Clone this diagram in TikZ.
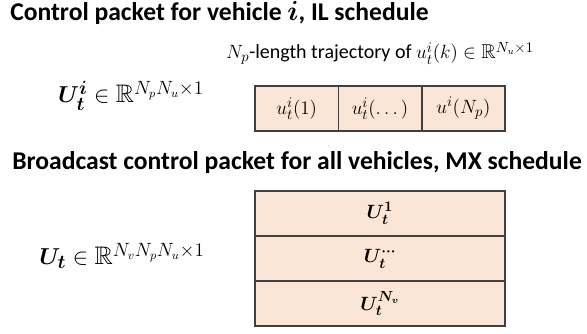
\documentclass[tikz,border=0pt]{standalone}
\usepackage{amsmath}
\usepackage{amssymb}
\usepackage[no-math]{fontspec}
\usepackage{xcolor}
\setmainfont{Carlito}
\usetikzlibrary{positioning}
\definecolor{pktFill}{RGB}{251,229,214}
\definecolor{pktLine}{RGB}{64,64,64}

\begin{document}
\begin{tikzpicture}[
  x=0.75pt,y=-0.75pt,
  head/.style={font=\fontsize{19.2}{22}\selectfont\bfseries,inner sep=0pt,anchor=base west},
  lbl/.style={font=\fontsize{15}{18}\selectfont,inner sep=0pt,anchor=base},
  vec/.style={font=\fontsize{19}{22}\selectfont,inner sep=0pt,anchor=base},
  cell/.style={draw=pktLine,line width=1.2pt,fill=pktFill,outer sep=0pt,inner sep=0pt,
    minimum height=33.75pt,font=\fontsize{15}{18}\selectfont},
  ucell/.style={cell,minimum width=62.5pt},
  vcell/.style={cell,minimum width=187.5pt},
]
\useasboundingbox (0,0) rectangle (587,334);

% IL schedule: one vehicle
\node[head] (ilhead) at (10,21) {Control packet for vehicle $\boldsymbol{i}$, IL schedule};
\node[lbl] (traj) at (380,59) {$N_p$-length trajectory of $u_t^i(k)\in\mathbb{R}^{N_u\times 1}$};
\node[vec] (Ui) at (131,103) {$\boldsymbol{U_t^i}\in\mathbb{R}^{N_pN_u\times 1}$};
\node[ucell] (u1) at (296.7,108.5) {$u_t^i(1)$};
\node[ucell,right=0pt of u1] (u2) {$u_t^i(\dots)$};
\node[ucell,right=0pt of u2] (u3) {$u^i(N_p)$};

% MX schedule: all vehicles
\node[head] (mxhead) at (12,170) {Broadcast control packet for all vehicles, MX schedule};
\node[vec] (U) at (122,265) {$\boldsymbol{U_t}\in\mathbb{R}^{N_vN_pN_u\times 1}$};
\node[vcell] (v1) at (380,213.5) {$\boldsymbol{U_t^1}$};
\node[vcell,below=0pt of v1] (v2) {$\boldsymbol{U_t^{\cdots}}$};
\node[vcell,below=0pt of v2] (v3) {$\boldsymbol{U_t^{N_v}}$};
\end{tikzpicture}
\end{document}
